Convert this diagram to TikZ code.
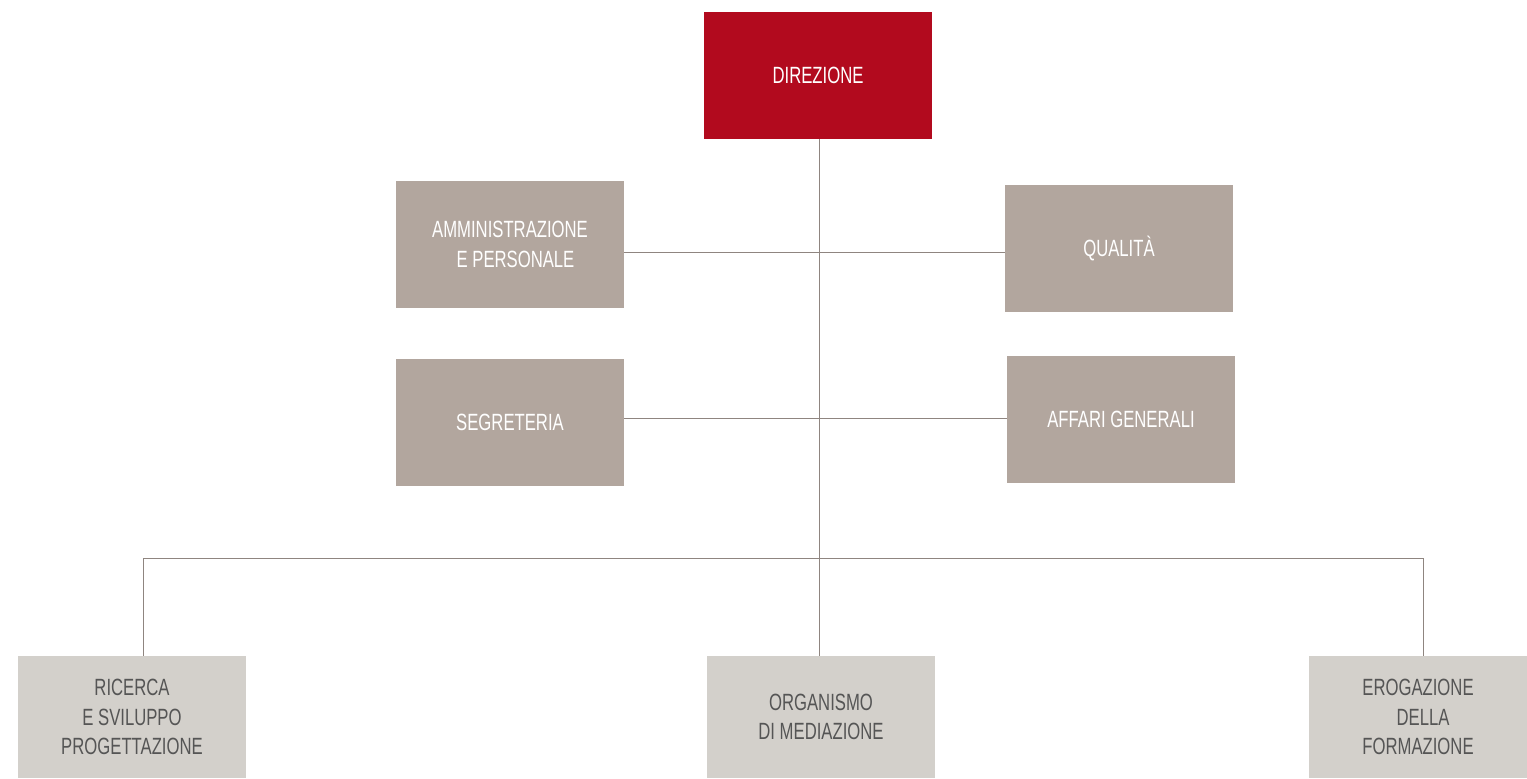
\documentclass[tikz,border=0pt]{standalone}
\usepackage{fontspec}
\setmainfont[FakeStretch=0.71]{Liberation Sans}
\definecolor{dirred}{HTML}{B20A1E}
\definecolor{taupe}{HTML}{B2A69E}
\definecolor{lightbox}{HTML}{D3D0CB}
\definecolor{linecol}{HTML}{8F8580}
\definecolor{darktext}{HTML}{555555}
\begin{document}
\begin{tikzpicture}[x=1pt,y=-1pt,
  box/.style={rectangle, inner sep=0pt, minimum width=228pt, minimum height=127pt, align=center,
    font=\fontsize{23.5}{29.5}\selectfont},
  topbox/.style={box, fill=dirred, text=white},
  midbox/.style={box, fill=taupe, text=white},
  lowbox/.style={box, fill=lightbox, text=darktext, minimum height=122pt},
  conn/.style={draw=linecol, line width=1pt}]
\useasboundingbox (0,0) rectangle (1527,779);
\fill[white] (0,0) rectangle (1527,779);

\node[topbox] (dir) at (818,75.5) {DIREZIONE};
\node[midbox] (amm) at (510,244.5) {AMMINISTRAZIONE\\\hspace*{11pt}E PERSONALE};
\node[midbox] (qua) at (1119,248.5) {QUALITÀ};
\node[midbox] (seg) at (510,422.5) {SEGRETERIA};
\node[midbox] (aff) at (1121,419.5) {AFFARI GENERALI};
\node[lowbox] (ric) at (132,717) {RICERCA\\E SVILUPPO\\PROGETTAZIONE};
\node[lowbox] (org) at (821,717) {ORGANISMO\\DI MEDIAZIONE};
\node[lowbox, minimum width=218pt] (ero) at (1418,717) {EROGAZIONE\\\hspace*{10pt}DELLA\\FORMAZIONE};

\coordinate (spine) at (819,139);
\coordinate (busL) at (143,558);
\coordinate (busR) at (1423,558);

\draw[conn] (spine) -- (spine |- org.north);
\draw[conn] (amm.east |- 0,252) -- (qua.west |- 0,252);
\draw[conn] (seg.east |- 0,418) -- (aff.west |- 0,418);
\draw[conn] (busL) -- (busR);
\draw[conn] (busL) -- (busL |- ric.north);
\draw[conn] (busR) -- (busR |- ero.north);
\end{tikzpicture}
\end{document}
